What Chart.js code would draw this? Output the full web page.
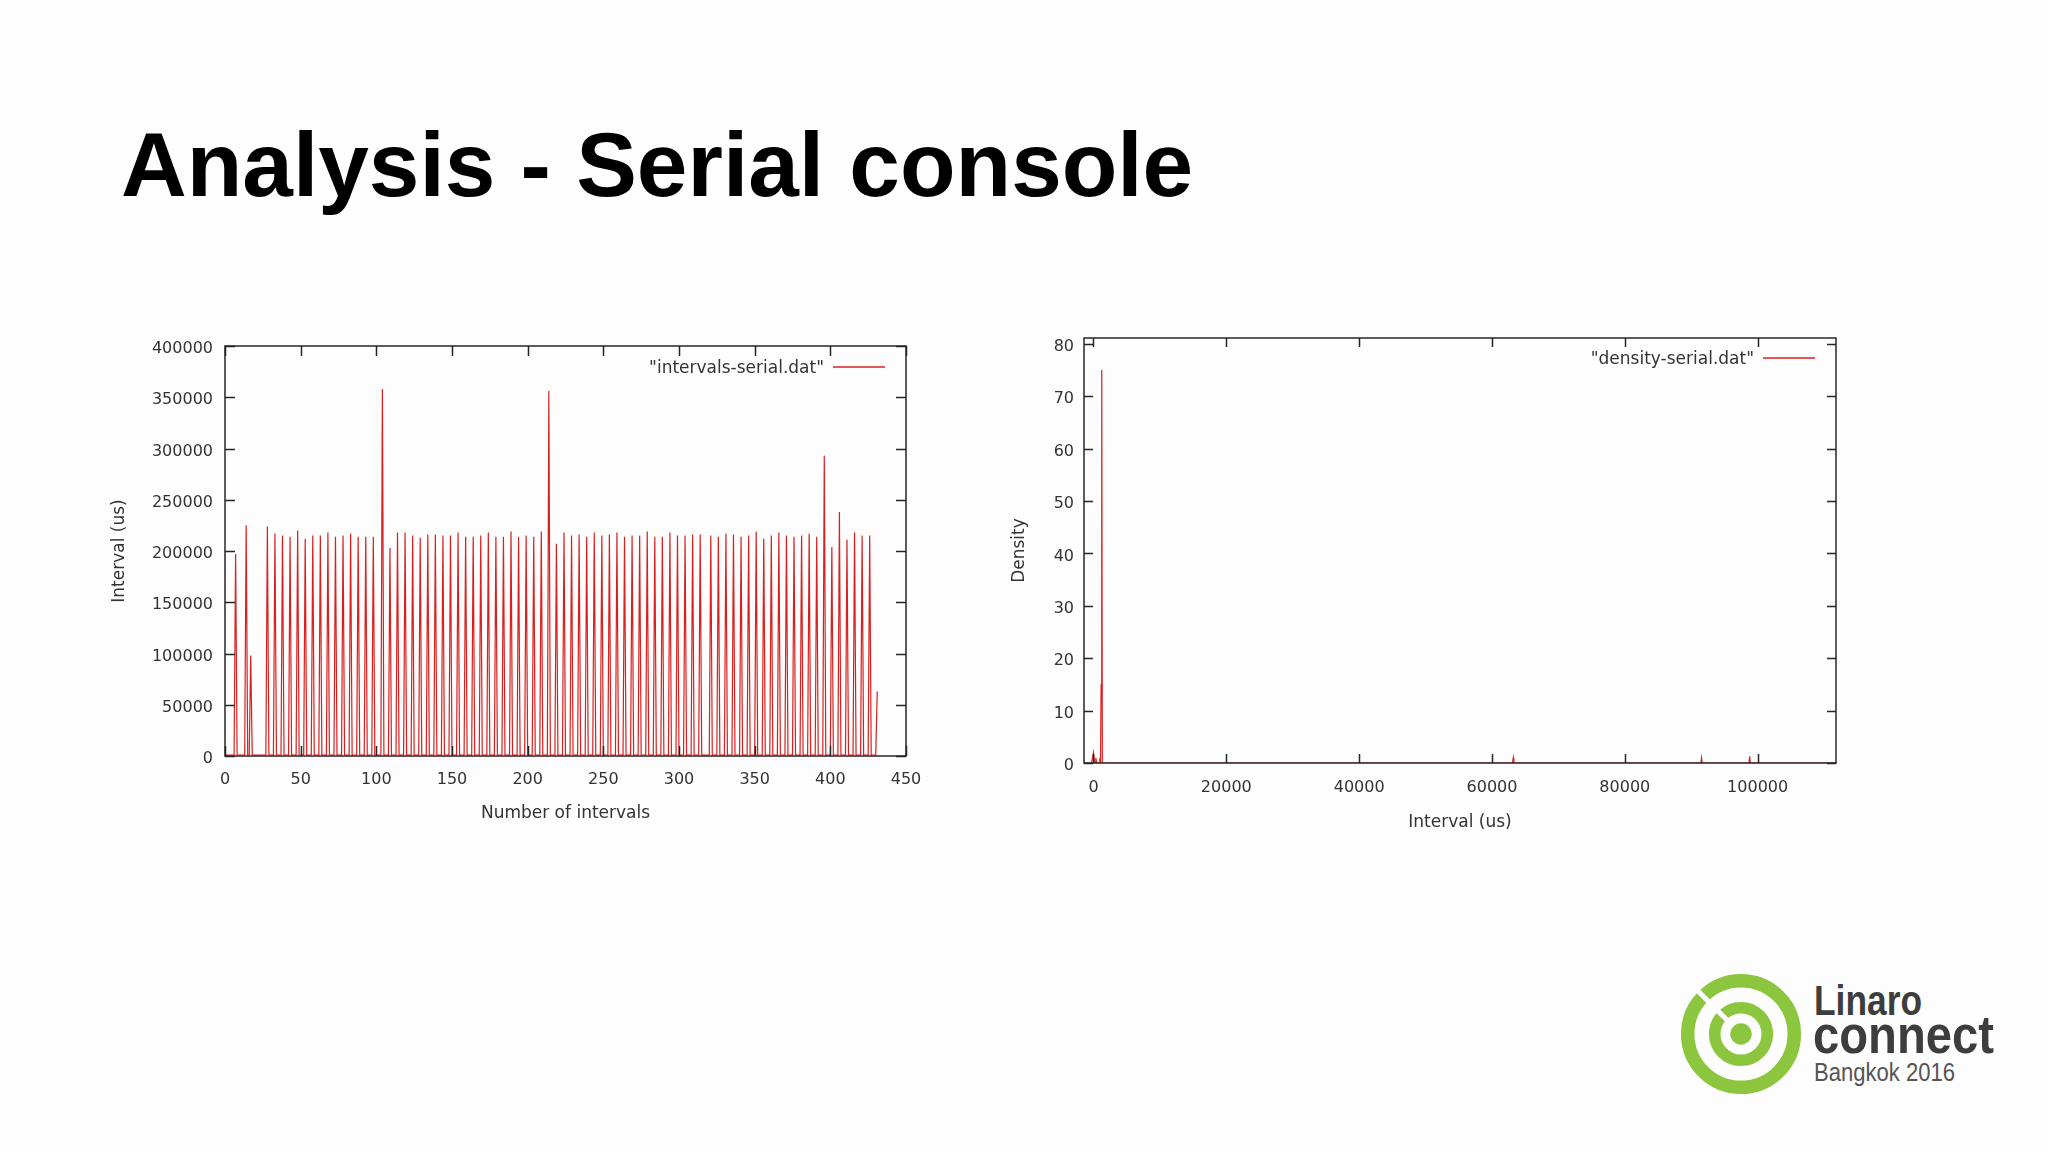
<!DOCTYPE html>
<html>
<head>
<meta charset="utf-8">
<title>Analysis - Serial console</title>
<script src="https://cdn.jsdelivr.net/npm/chart.js@4.4.1/dist/chart.umd.min.js"></script>
<style>
  html, body { margin: 0; padding: 0; }
  body { width: 2048px; height: 1152px; background: #fdfdfd; position: relative; overflow: hidden;
         font-family: "Liberation Sans", Arial, sans-serif; }
  h1 { position: absolute; left: 121px; top: 119px; margin: 0; font-size: 91px; line-height: 1;
       font-weight: bold; color: #000; white-space: nowrap; }
  #intervals { position: absolute; left: 100px; top: 320px; }
  #density { position: absolute; left: 960px; top: 310px; }
  #logo { position: absolute; left: 1660px; top: 960px; }
</style>
</head>
<body>
<h1>Analysis - Serial console</h1>
<canvas id="intervals" width="840" height="520"></canvas>
<canvas id="density" width="920" height="540"></canvas>

<svg id="logo" width="380" height="150" viewBox="1660 960 380 150">
  <g fill="none" stroke="#8cc63f">
    <circle cx="1741" cy="1034" r="53.3" stroke-width="13.5"/>
    <circle cx="1741" cy="1034" r="26.3" stroke-width="11.6"/>
  </g>
  <circle cx="1741" cy="1034" r="10.7" fill="#8cc63f"/>
  <line x1="1727" y1="1020" x2="1690" y2="983" stroke="#fdfdfd" stroke-width="5"/>
  <g font-family="Liberation Sans, Arial, sans-serif">
    <text x="1814" y="1015" font-size="42" font-weight="bold" fill="#3d3d3d" textLength="108" lengthAdjust="spacingAndGlyphs">Linaro</text>
    <text x="1813" y="1053" font-size="54" font-weight="bold" fill="#3d3d3d" textLength="181" lengthAdjust="spacingAndGlyphs">connect</text>
    <text x="1814" y="1081" font-size="25" fill="#555" textLength="141" lengthAdjust="spacingAndGlyphs">Bangkok 2016</text>
  </g>
</svg>

<script>
// intervals-serial.dat: spike positions (interval number) and their heights (us)
const spikeIdx = [7, 14, 17, 28, 33, 38, 43, 48, 53, 58, 63, 68, 73, 78, 83, 88, 93, 98,
  104, 109, 114, 119, 124, 129, 134, 139, 144, 149, 154, 159, 164, 169, 174, 179, 184, 189, 194, 199, 204, 209,
  214, 219, 224, 229, 234, 239, 244, 249, 254, 259, 264, 269, 274, 279, 284, 289, 294, 299, 304, 309, 314,
  321, 326, 331, 336, 341, 346, 351, 356, 361, 366, 371, 376, 381, 386, 391, 396, 401, 406, 411, 416, 421, 426, 431];
const spikeVal = [197000, 225000, 98000, 224000, 217000, 215000, 214000, 220000, 212000, 215000, 215000, 218000, 214000, 215000, 217000, 214000, 214000, 214000,
  358000, 203000, 218000, 218000, 215000, 213000, 216000, 216000, 215000, 215000, 218000, 214000, 214000, 215000, 218000, 214000, 214000, 219000, 214000, 215000, 214000, 219000,
  356000, 207000, 218000, 215000, 216000, 214000, 218000, 215000, 216000, 218000, 214000, 215000, 215000, 219000, 214000, 214000, 218000, 215000, 215000, 216000, 216000,
  215000, 214000, 217000, 216000, 214000, 215000, 219000, 212000, 215000, 218000, 215000, 214000, 215000, 217000, 214000, 293000, 204000, 238000, 211000, 218000, 215000, 215000, 63000];
const baseVal = 1000;   // the intervals between spikes sit just above zero
const lastIdx = 431;

const intervalXTicks = [0, 50, 100, 150, 200, 250, 300, 350, 400, 450];
const intervalYTicks = [0, 50000, 100000, 150000, 200000, 250000, 300000, 350000, 400000];

// density-serial.dat
const densityX = [-300, 0, 150, 300, 350, 500, 900, 950, 1050, 1100, 1150, 1200, 1280, 1330, 1500,
  63100, 63200, 63300, 91450, 91550, 91650, 98700, 98800, 98900, 111800];
const densityY = [0, 2, 0, 0, 1, 0, 0, 1, 0, 0, 15, 15, 75, 0, 0,
  0, 1, 0, 0, 1, 0, 0, 1.3, 0, 0];
const densityXTicks = [0, 20000, 40000, 60000, 80000, 100000];
const densityYTicks = [0, 10, 20, 30, 40, 50, 60, 70, 80];

const intervalPts = [];
for (let i = 0; i <= lastIdx; i++) {
  const k = spikeIdx.indexOf(i);
  intervalPts.push({ x: i, y: k >= 0 ? spikeVal[k] : baseVal });
}
const densityPts = densityX.map((x, i) => ({ x: x, y: densityY[i] }));

const FONT = "DejaVu Sans";
const TEXT = "#333";

// gnuplot style box: frame, inward mirrored ticks, key in the top right corner
const gnuplotFrame = {
  id: "gnuplotFrame",
  afterDatasetsDraw(chart, args, opts) {
    const { ctx, chartArea: a, scales } = chart;
    const tl = opts.tick;
    ctx.save();
    ctx.strokeStyle = "#262626";
    ctx.lineWidth = 1.5;
    ctx.beginPath();
    scales.x.ticks.forEach((t) => {
      const px = Math.round(scales.x.getPixelForValue(t.value)) + 0.5;
      ctx.moveTo(px, a.bottom); ctx.lineTo(px, a.bottom - tl);
      ctx.moveTo(px, a.top); ctx.lineTo(px, a.top + tl);
    });
    scales.y.ticks.forEach((t) => {
      const py = Math.round(scales.y.getPixelForValue(t.value)) + 0.5;
      ctx.moveTo(a.left, py); ctx.lineTo(a.left + tl, py);
      ctx.moveTo(a.right, py); ctx.lineTo(a.right - tl, py);
    });
    ctx.stroke();
    ctx.strokeRect(a.left, a.top, a.right - a.left, a.bottom - a.top);

    const ds = chart.data.datasets[0];
    const y = a.top + opts.keyY;
    const x2 = a.right - 21, x1 = x2 - 52;
    ctx.strokeStyle = ds.borderColor;
    ctx.lineWidth = 1.3;
    ctx.beginPath(); ctx.moveTo(x1, y); ctx.lineTo(x2, y); ctx.stroke();
    ctx.font = "17px '" + FONT + "'";
    ctx.fillStyle = TEXT;
    ctx.textAlign = "right";
    ctx.textBaseline = "middle";
    ctx.fillText(ds.label, x1 - 9, y + 2);
    ctx.restore();
  },
};

function axis(tickVals, min, max, title, tickPad, labelOff, titlePad, fit) {
  return {
    type: "linear",
    min: min,
    max: max,
    afterBuildTicks: (s) => { s.ticks = tickVals.map((v) => ({ value: v })); },
    afterFit: fit,
    grid: { display: false, drawTicks: false },
    border: { display: false },
    ticks: { color: TEXT, font: { family: FONT, size: 16 }, padding: tickPad, labelOffset: labelOff,
             maxRotation: 0, autoSkip: false, callback: (v) => String(v) },
    title: { display: true, text: title, color: TEXT, font: { family: FONT, size: 17 }, padding: titlePad },
  };
}

function makeChart(id, label, pts, padding, xAxis, yAxis, tick, keyY) {
  return new Chart(document.getElementById(id), {
    type: "line",
    data: {
      datasets: [{ label: label, data: pts, borderColor: "#d9201f", borderWidth: 1.2,
                   pointRadius: 0, fill: false, tension: 0 }],
    },
    options: {
      responsive: false,
      animation: false,
      layout: { padding: padding },
      plugins: { legend: { display: false }, tooltip: { enabled: false },
                 gnuplotFrame: { tick: tick, keyY: keyY } },
      scales: { x: xAxis, y: yAxis },
    },
    plugins: [gnuplotFrame],
  });
}

makeChart("intervals", '"intervals-serial.dat"', intervalPts,
  { top: 26, right: 34, left: 0, bottom: 0 },
  axis(intervalXTicks, 0, 450, "Number of intervals", 14, 0, { top: 0, bottom: 16 }, (s) => { s.height = 84; }),
  axis(intervalYTicks, 0, 400000, "Interval (us)", 12, 3, { top: 9, bottom: 0 }, (s) => { s.width = 125; }),
  10, 21);

makeChart("density", '"density-serial.dat"', densityPts,
  { top: 28, right: 44, left: 0, bottom: 0 },
  axis(densityXTicks, -1430, 111800, "Interval (us)", 15, 0, { top: 0, bottom: 17 }, (s) => { s.height = 87; }),
  axis(densityYTicks, 0, 81.1, "Density", 10, 3, { top: 49, bottom: 0 }, (s) => { s.width = 124; }),
  9, 20);
</script>
</body>
</html>
